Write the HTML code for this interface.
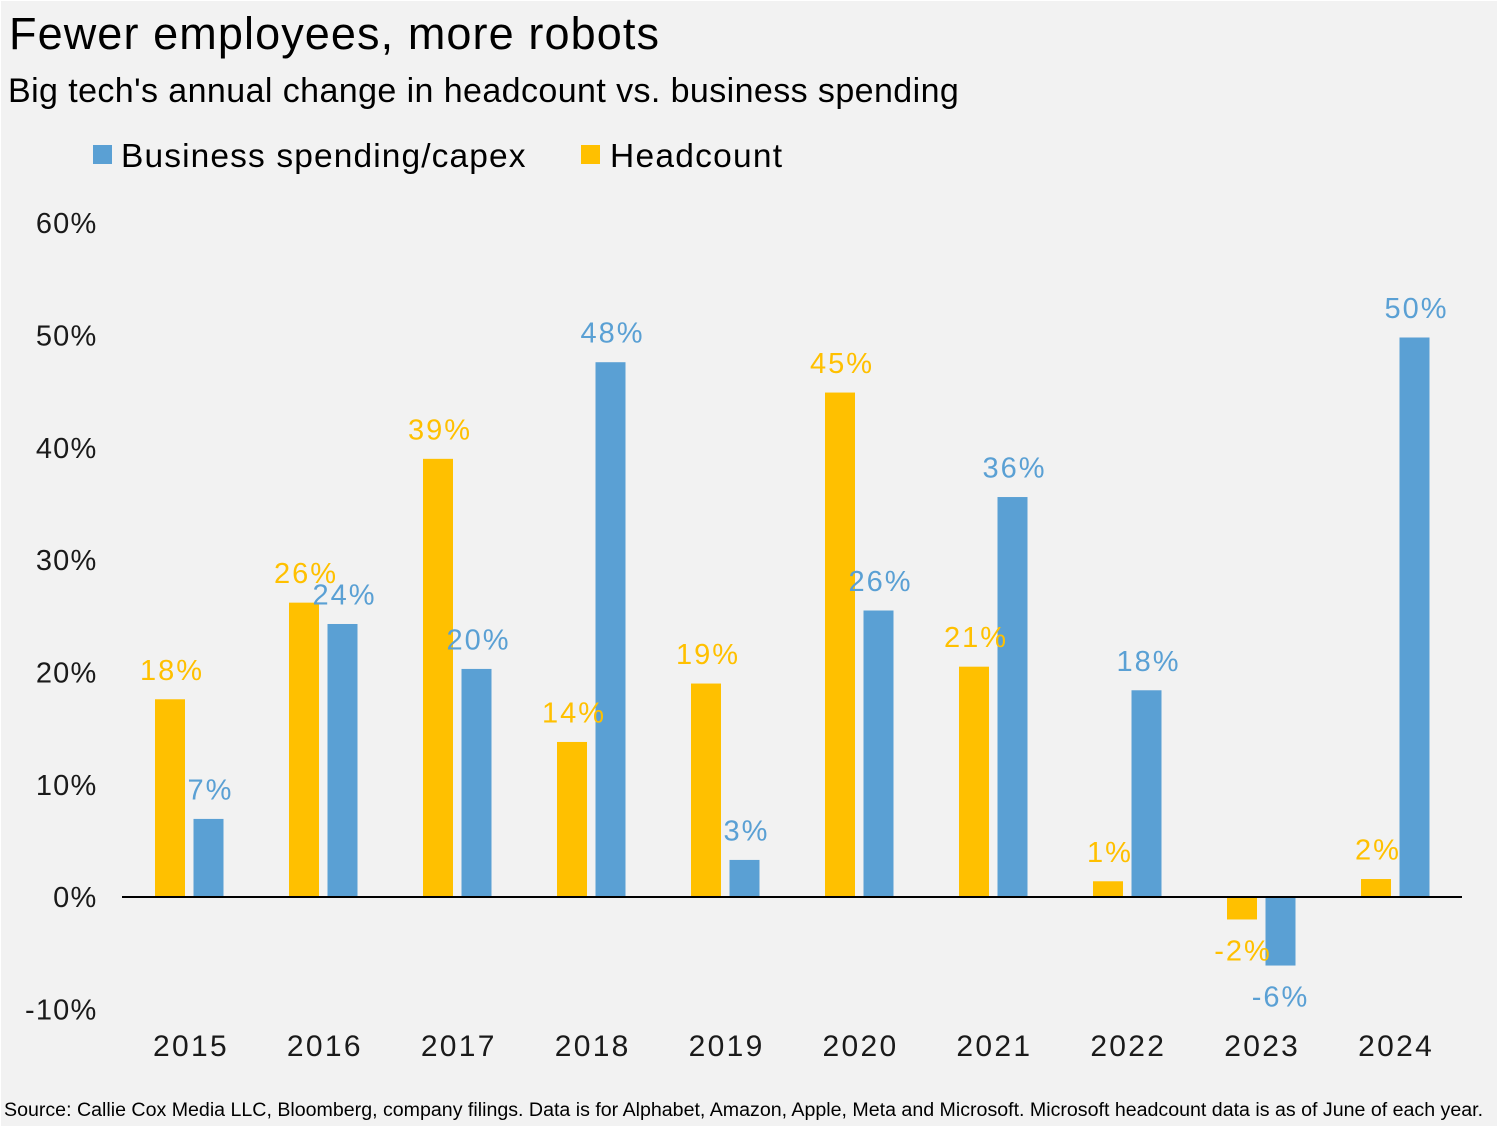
<!DOCTYPE html>
<html lang="en">
<head>
<meta charset="utf-8">
<title>Fewer employees, more robots</title>
<style>
html,body{margin:0;padding:0;background:#fff;}
body{width:1498px;height:1128px;overflow:hidden;}
svg{display:block;}
text{font-family:"Liberation Sans",sans-serif;}
</style>
</head>
<body>
<svg id="chart" width="1498" height="1128" viewBox="0 0 1498 1128" xmlns="http://www.w3.org/2000/svg">
<rect x="1" y="1" width="1496" height="1125" fill="#f2f2f2"/>
<text x="9" y="49" font-size="45" letter-spacing="1.1" fill="#000">Fewer employees, more robots</text>
<text x="8" y="102" font-size="34" letter-spacing="0.41" fill="#000">Big tech's annual change in headcount vs. business spending</text>
<rect x="93" y="145" width="19" height="19" fill="#5aa0d4"/>
<text x="121" y="167" font-size="33.5" letter-spacing="1.12" fill="#000">Business spending/capex</text>
<rect x="581" y="145" width="19" height="19" fill="#ffc000"/>
<text x="610" y="167" font-size="33.5" letter-spacing="1.25" fill="#000">Headcount</text>
<g id="y-axis"></g>
<g id="x-axis"></g>
<g id="bars"></g>
<g id="labels"></g>
<line x1="122" y1="897" x2="1462" y2="897" stroke="#000" stroke-width="2"/>
<text x="4" y="1116" font-size="19.6" fill="#000">Source: Callie Cox Media LLC, Bloomberg, company filings. Data is for Alphabet, Amazon, Apple, Meta and Microsoft. Microsoft headcount data is as of June of each year.</text>
</svg>
<script>
const years = ["2015","2016","2017","2018","2019","2020","2021","2022","2023","2024"];
const headcount = [17.6,26.2,39,13.8,19,44.9,20.5,1.4,-2,1.6];
const capex = [6.95,24.3,20.3,47.6,3.3,25.5,35.6,18.4,-6.1,49.8];
const headcountLabels = ["18%","26%","39%","14%","19%","45%","21%","1%","-2%","2%"];
const capexLabels = ["7%","24%","20%","48%","3%","26%","36%","18%","-6%","50%"];
const yTicks = [-10,0,10,20,30,40,50,60];

const NS = "http://www.w3.org/2000/svg";
const BLUE = "#5aa0d4";
const GOLD = "#ffc000";
const yScale = v => 897 - v * 11.235;
const groupX = i => 189.5 + i * 134;
const BAR_W = 30;

function make(tag, parent, attrs, txt){
  const el = document.createElementNS(NS, tag);
  for (const k in attrs) el.setAttribute(k, attrs[k]);
  if (txt !== undefined) el.textContent = txt;
  parent.appendChild(el);
  return el;
}
const yAxis = document.getElementById("y-axis");
const xAxis = document.getElementById("x-axis");
const barsG = document.getElementById("bars");
const labelsG = document.getElementById("labels");

yTicks.forEach(t => {
  const el = make("text", yAxis, {x:97.5, y:yScale(t)+10.2, "text-anchor":"end", "font-size":29, "letter-spacing":"1.2", fill:"#1a1a1a"}, t + "%");
  
  
});
years.forEach((y, i) => {
  const el = make("text", xAxis, {x:groupX(i)+1.5-i*0.1, y:1056, "text-anchor":"middle", "font-size":30, "letter-spacing":"2.3", fill:"#1a1a1a"}, y);
  
  

  const hv = headcount[i], cv = capex[i];
  const hx = groupX(i) - 34.5, cx = groupX(i) + 4;
  const hb = make("rect", barsG, {x:hx, y:Math.min(yScale(hv), yScale(0)), width:BAR_W, height:Math.abs(yScale(hv)-yScale(0)), fill:GOLD});
  
  
  const cb = make("rect", barsG, {x:cx, y:Math.min(yScale(cv), yScale(0)), width:BAR_W, height:Math.abs(yScale(cv)-yScale(0)), fill:BLUE});
  
  

  const hy = hv >= 0 ? yScale(hv) - 19.5 : yScale(hv) + 41;
  const cy = cv >= 0 ? yScale(cv) - 19.5 : yScale(cv) + 41;
  const hl = make("text", labelsG, {x:hx+BAR_W/2+(hv < 0 ? 1 : 2), y:hy, "text-anchor":"middle", "font-size":29, "letter-spacing":"2", fill:GOLD}, headcountLabels[i]);
  
  
  const cl = make("text", labelsG, {x:cx+BAR_W/2+(cv < 0 ? 0 : 2), y:cy, "text-anchor":"middle", "font-size":29, "letter-spacing":"2", fill:BLUE}, capexLabels[i]);
  
  
});
</script>
</body>
</html>
